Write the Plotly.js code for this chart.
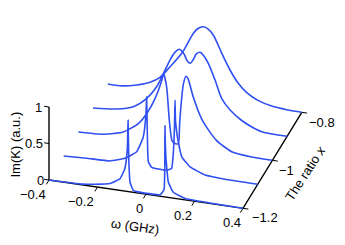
<!DOCTYPE html>
<html><head><meta charset="utf-8">
<script src="https://cdn.plot.ly/plotly-3.0.1.min.js"></script>
<style>html,body{margin:0;padding:0;background:#fff}#c{width:345px;height:245px}</style>
</head><body><div id="c"></div>
<script>
const ratioA=-1.2, ratioB=-1.1, ratioC=-1.0, ratioD=-0.9, ratioE=-0.8;
const wA=[-.4,-.355,-.259,-.217,-.148,-.107,-.087,-.077,-.074,-.071,-.066,-.052,-.011,.058,.07,.075,.0775,.078,.08,.0825,.0866,.092,.1126,.161,.257,.4];
const kA=[0,.002,.012,.03,.074,.16,.31,.586,.975,.45,.134,.027,.012,.02,.07,.11,.43,.975,.7,.53,.366,.21,.08,.02,.008,0];
const wB=[-.4,-.305,-.209,-.147,-.099,-.072,-.061,-.058,-.055,-.051,-.037,-.003,.025,.045,.052,.057,.059,.061,.065,.07,.087,.121,.183,.265,.4];
const kB=[0,.016,.025,.092,.204,.42,.725,.977,.45,.09,.02,.01,.012,.045,.258,.64,.986,.71,.58,.47,.223,.103,.022,.005,0];
const wC=[-.4,-.297,-.215,-.153,-.118,-.084,-.056,-.049,-.036,-.025,-.014,-.002,.012,.017,.023,.033,.044,.052,.074,.108,.129,.17,.232,.315,.4];
const kC=[0,.02,.09,.235,.39,.61,.875,.975,.79,.34,.07,.035,.04,.29,.565,.87,.98,.95,.705,.425,.32,.158,.037,.005,0];
const wD=[-.4,-.303,-.234,-.179,-.138,-.11,-.083,-.062,-.045,-.025,-.013,0,.012,.026,.041,.057,.075,.103,.13,.165,.213,.248,.295,.4];
const kD=[0,.033,.099,.24,.419,.612,.811,.93,.977,.922,.838,.805,.857,.947,.977,.934,.842,.627,.39,.247,.126,.067,.012,0];
const wE=[-.4,-.35,-.281,-.226,-.185,-.143,-.095,-.047,-.028,-.006,.014,.035,.07,.104,.138,.173,.221,.282,.344,.4];
const kE=[0,0,.044,.108,.196,.362,.568,.866,.941,.975,.953,.882,.648,.436,.27,.159,.073,.021,.005,0];
const curves=[[ratioA,wA,kA,.35],[ratioB,wB,kB,.35],[ratioC,wC,kC,.6],[ratioD,wD,kD,.8],[ratioE,wE,kE,.8]];
const xTicks=[-.4,-.2,0,.2,.4], xLabels=['−0.4','−0.2','0','0.2','0.4'];
const yTicks=[-1.2,-1,-.8], yLabels=['−1.2','−1','−0.8'];
const zTicks=[0,.5,1], zLabels=['0','0.5','1'];
const F='"Liberation Sans",Arial,sans-serif';
// oblique projection of (omega, ratio, Im K) to the plane of the page
const px=(w,r,k)=>49+242.5*(w+.4)+147*(r+1.2);
const py=(w,r,k)=>180+35.4*(w+.4)-240*(r+1.2)-73*k;
const path=(pts,extra)=>Object.assign({type:'scatter',mode:'lines',x:pts.map(p=>p[0]),y:pts.map(p=>p[1]),
  hoverinfo:'skip',showlegend:false,line:{color:'#000',width:1.4}},extra||{});
const P=(w,r,k)=>[px(w,r,k),py(w,r,k)];
const traces=[];
traces.push(path([P(-.4,-1.2,0),P(.4,-1.2,0),P(.4,-.8,0)]));
traces.push(path([P(-.4,-1.2,0),P(-.4,-1.2,1)]));
xTicks.forEach(w=>traces.push(path([P(w,-1.2,0),P(w,-1.2-.018,0)],{line:{color:'#000',width:1}})));
yTicks.forEach(r=>traces.push(path([P(.4,r,0),P(.4+.022,r,0)],{line:{color:'#000',width:1}})));
zTicks.forEach(k=>traces.push(path([P(-.4,-1.2,k),P(-.4-.02,-1.2,k)],{line:{color:'#000',width:1}})));
curves.forEach(([r,w,k,s])=>traces.push({type:'scatter',mode:'lines',
  x:w.map((v,i)=>px(v,r,k[i])),y:w.map((v,i)=>py(v,r,k[i])),
  line:{color:'#3050f0',width:1.6,shape:'spline',smoothing:s},hoverinfo:'skip',showlegend:false}));
const note=(x,y,text,angle)=>({xref:'x',yref:'y',x,y,text,textangle:angle||0,showarrow:false,
  xanchor:'center',yanchor:'middle',font:{family:F,size:13,color:'#000'}});
const xOff=[[-16.5,14],[-16.5,14],[-7,14],[-12,14],[-11.5,14]];
const yOff=[[21.5,8.7],[13.6,9.7],[19.7,9.7]];
const zOff=[-8.5,-15.5,-11];
const ann=[];
xTicks.forEach((w,i)=>{const p=P(w,-1.2,0);ann.push(note(p[0]+xOff[i][0],p[1]+xOff[i][1],xLabels[i]));});
yTicks.forEach((r,i)=>{const p=P(.4,r,0);ann.push(note(p[0]+yOff[i][0],p[1]+yOff[i][1],yLabels[i]));});
zTicks.forEach((k,i)=>{const p=P(-.4,-1.2,k);ann.push(note(p[0]+zOff[i],p[1],zLabels[i]));});
ann.push(note(14.5,145,'Im(K) (a.u.)',-90));
ann.push(note(135,226,'ω (GHz)',8));
ann.push(note(305,173,'The ratio <i>x</i>',-57));
Plotly.newPlot('c',traces,{width:345,height:245,margin:{l:0,r:0,t:0,b:0},paper_bgcolor:'#fff',plot_bgcolor:'#fff',showlegend:false,
  xaxis:{range:[0,345],visible:false,fixedrange:true},yaxis:{range:[245,0],visible:false,fixedrange:true},annotations:ann
},{displayModeBar:false,staticPlot:true});
</script></body></html>
